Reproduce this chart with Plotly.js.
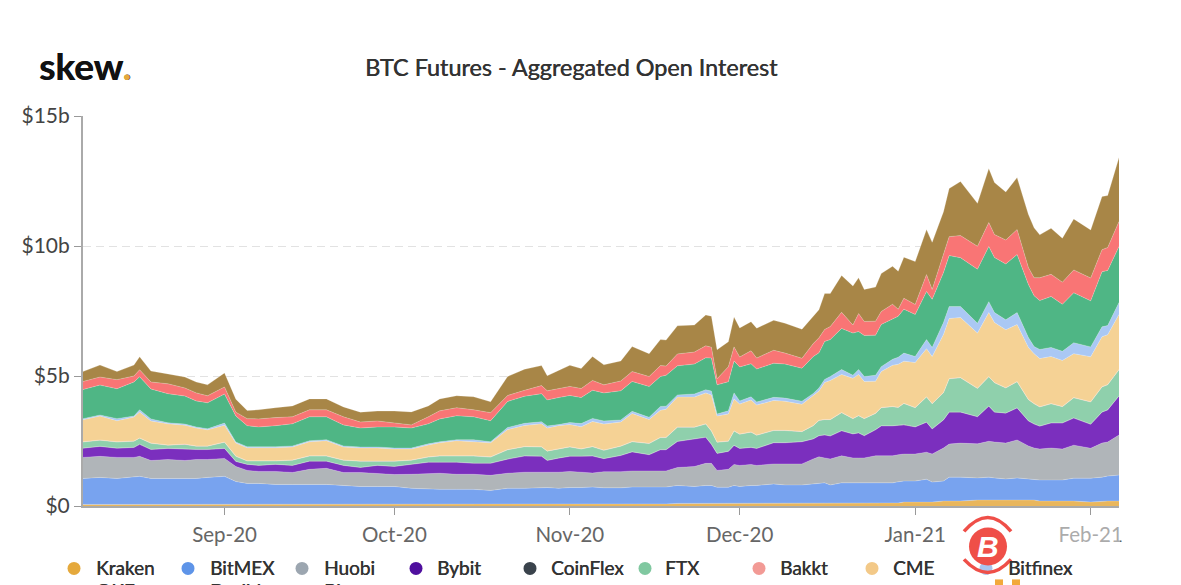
<!DOCTYPE html>
<html><head><meta charset="utf-8">
<script src="https://cdn.plot.ly/plotly-3.0.1.min.js"></script>
<style>html,body{margin:0;padding:0;background:#fff;overflow:hidden}#c{width:1181px;height:585px}</style>
</head><body><div id="c"></div>
<script>
const dates=["2020-08-07","2020-08-10","2020-08-13","2020-08-16","2020-08-17","2020-08-19","2020-08-22","2020-08-25","2020-08-27","2020-08-29",
"2020-09-01","2020-09-03","2020-09-05","2020-09-07","2020-09-10","2020-09-13","2020-09-16","2020-09-19","2020-09-22","2020-09-25",
"2020-09-28","2020-10-01","2020-10-04","2020-10-07","2020-10-09","2020-10-12","2020-10-15","2020-10-18","2020-10-21","2020-10-24",
"2020-10-27","2020-10-28","2020-10-30","2020-11-01","2020-11-03","2020-11-05","2020-11-07","2020-11-10","2020-11-12","2020-11-15",
"2020-11-17","2020-11-18","2020-11-20","2020-11-23","2020-11-25","2020-11-26","2020-11-27","2020-11-29","2020-11-30","2020-12-01",
"2020-12-03","2020-12-04","2020-12-07","2020-12-09","2020-12-12","2020-12-14","2020-12-15","2020-12-16","2020-12-17","2020-12-19",
"2020-12-21","2020-12-22","2020-12-23","2020-12-25","2020-12-26","2020-12-28","2020-12-29","2020-12-30","2021-01-01","2021-01-03","2021-01-04",
"2021-01-06","2021-01-07","2021-01-09",
"2021-01-12","2021-01-14","2021-01-15","2021-01-17","2021-01-19",
"2021-01-21","2021-01-22","2021-01-23","2021-01-25","2021-01-27","2021-01-29","2021-02-01","2021-02-03","2021-02-04","2021-02-06"];

const kraken=[.06,.06,.06,.06,.06,.06,.06,.06,.06,.06,.06,.06,.06,.06,.06,.06,.06,.06,.06,.06,.06,.06,.06,.06,.06,.06,.06,.06,.06,.06,.06,.06,.06,.06,.06,
.08,.08,.08,.08,.08,.08,.08,.1,.1,.1,.1,.1,.1,.1,.1,.1,.1,
.12,.12,.12,.12,.12,.12,.12,.12,.12,.12,.12,.12,.12,.12,.12,.15,.15,.15,.15,
.19,.19,.19,.23,.23,.23,.23,.23,.23,.23,.19,.19,.19,.19,.15,.19,.19,.19];
const bitmex=[1.0,1.04,1.0,1.04,1.08,1.0,1.0,1.0,1.0,1.04,
1.08,.88,.81,.81,.77,.77,.77,.77,.73,.69,
.69,.69,.62,.58,.58,.58,.58,.54,.62,.62,
.65,.65,.62,.65,.65,.65,.62,.62,.65,.65,
.65,.65,.69,.65,.69,.69,.62,.62,.69,.65,
.69,.69,.73,.69,.69,.73,.73,.77,.69,.77,
.77,.77,.77,.77,.77,.77,.81,.81,.81,.88,.77,
.77,.92,.92,
.85,.88,.85,.81,.85,
.81,.77,.81,.81,.81,.88,.92,.92,.96,1.0];
const huobi=[.81,.81,.81,.77,.77,.69,.73,.69,.73,.69,
.69,.58,.50,.46,.50,.46,.58,.62,.50,.54,
.50,.46,.54,.62,.62,.58,.58,.58,.58,.62,
.58,.58,.62,.62,.58,.54,.62,.62,.62,.62,
.62,.62,.69,.77,.85,.85,.65,.69,.81,.81,
.81,.77,.77,.81,.81,.96,1.04,.96,1.0,1.04,
.96,.96,.96,1.04,1.04,1.04,1.04,1.04,1.04,1.04,1.08,
1.27,1.27,1.31,
1.31,1.38,1.38,1.38,1.46,
1.27,1.23,1.19,1.23,1.19,1.27,1.15,1.31,1.31,1.54];
const bybit=[.35,.38,.35,.38,.46,.42,.42,.42,.38,.38,
.38,.19,.23,.23,.27,.27,.31,.27,.27,.19,
.31,.31,.38,.42,.42,.46,.42,.46,.54,.62,
.62,.46,.54,.58,.62,.65,.50,.62,.73,.62,
.81,.81,1.0,1.04,1.0,.73,.65,.69,.73,.65,
.65,.65,.81,.81,.85,.77,.81,.88,.88,.96,
.92,.96,.85,1.0,1.15,1.15,1.12,1.12,1.04,1.15,.96,
1.08,1.23,1.19,
1.04,1.35,1.15,1.15,1.23,
.96,.92,.88,.96,1.0,1.04,.92,1.19,1.23,1.5];
const coinflex=[.01,.01,.01,.01,.01,.01,.01,.01,.01,.01,.01,.01,.01,.01,.01,.01,.01,.01,.01,.01,.01,.01,.01,.01,.01,.01,.01,.01,.01,.01,
.01,.01,.01,.01,.01,.01,.01,.01,.01,.01,.01,.01,.01,.01,.01,.01,.01,.01,.01,.01,.01,.01,.01,.01,.01,.01,.01,.01,.01,.01,
.01,.01,.01,.01,.01,.01,.01,.01,.01,.01,.01,.01,.01,.01,.01,.01,.01,.01,.01,.01,.01,.01,.01,.01,.01,.01,.01,.01,.01];
const ftx=[.23,.23,.23,.23,.23,.23,.12,.19,.12,.12,
.23,.19,.12,.15,.12,.19,.19,.19,.19,.23,
.15,.19,.15,.19,.23,.23,.27,.23,.35,.35,
.35,.35,.35,.35,.27,.35,.31,.35,.38,.42,
.46,.46,.54,.46,.50,.50,.42,.38,.54,.54,
.58,.50,.46,.46,.38,.50,.58,.58,.62,.69,
.58,.65,.65,.62,.69,.73,.69,.81,.73,.96,.96,
1.04,1.27,1.31,
1.08,1.12,1.12,.96,1.0,
.81,.77,.73,.73,.62,.77,.85,.96,.96,1.0];
const bakkt=[.01,.01,.01,.01,.01,.01,.01,.01,.01,.01,.01,.01,.01,.01,.01,.01,.01,.01,.01,.01,.01,.01,.01,.01,.01,.01,.01,.01,.01,.01,
.01,.01,.01,.01,.01,.01,.01,.01,.01,.01,.01,.01,.01,.01,.01,.01,.01,.01,.01,.01,.01,.01,.01,.01,.01,.01,.01,.01,.01,.01,
.01,.01,.01,.01,.01,.01,.01,.01,.01,.01,.01,.01,.01,.01,.01,.01,.01,.01,.01,.01,.01,.01,.01,.01,.01,.01,.01,.01,.01];
const cme=[.85,.92,.81,.92,1.0,.85,.81,.73,.69,.62,
.65,.50,.50,.50,.50,.50,.54,.58,.50,.50,
.50,.46,.42,.46,.50,.58,.54,.54,.77,.81,
.88,.88,.88,.85,.85,.96,1.0,.92,1.08,.92,
1.04,1.08,1.15,1.15,1.19,1.38,1.0,1.04,1.23,1.15,
1.23,1.15,1.15,1.12,1.04,1.15,1.12,1.42,1.5,1.46,
1.54,1.58,1.42,1.23,1.38,1.58,1.65,1.62,1.73,1.85,1.81,
2.23,2.31,2.31,
2.12,2.46,2.31,2.23,2.19,
2.0,1.92,1.85,1.81,1.77,1.69,1.73,1.92,1.92,2.12];
const bitfinex=[.04,.04,.08,.04,.08,.08,.04,.04,.04,.04,
.08,.04,.04,.04,.04,.04,.04,.04,.04,.04,
.04,.04,.04,.04,.04,.04,.08,.04,.08,.08,
.08,.08,.04,.08,.12,.12,.12,.08,.08,.08,
.15,.12,.08,.12,.12,.15,.08,.12,.23,.12,
.12,.12,.12,.12,.12,.08,.12,.12,.15,.19,
.12,.19,.19,.23,.19,.23,.27,.31,.23,.35,.35,
.46,.46,.42,
.38,.42,.38,.38,.46,
.38,.27,.35,.35,.35,.42,.38,.38,.35,.46];
const okex=[1.12,1.15,1.15,1.31,1.27,1.15,1.12,1.08,1.0,1.0,
1.12,1.0,.81,.77,.81,.85,.92,.88,.81,.73,
.77,.81,.77,.77,.88,.92,.88,.81,1.0,1.04,
1.08,1.0,1.04,1.04,1.0,1.08,1.08,1.12,1.15,1.19,
1.15,1.19,1.12,1.15,1.23,1.27,1.12,1.12,1.23,1.31,
1.27,1.27,1.31,1.31,1.27,1.42,1.35,1.46,1.42,1.58,
1.62,1.46,1.58,1.54,1.62,1.54,1.58,1.69,1.62,1.85,1.85,
1.92,1.96,1.88,
2.08,2.12,2.12,2.15,2.23,
2.04,1.96,1.88,1.96,1.81,1.92,1.77,2.12,2.12,2.15];
const deribit=[.31,.31,.35,.23,.27,.27,.38,.31,.31,.27,
.27,.15,.27,.31,.31,.27,.27,.27,.31,.23,
.23,.15,.12,.27,.31,.31,.27,.31,.23,.23,
.31,.35,.35,.35,.35,.38,.31,.38,.38,.38,
.42,.35,.46,.46,.46,.42,.23,.58,.54,.38,
.50,.42,.50,.42,.38,.50,.58,.46,.50,.62,
.31,.69,.54,.54,.50,.58,.27,.42,.38,.65,.38,
.69,.73,.85,
.88,.92,.88,.92,.96,
.65,.69,.88,.85,.85,.88,.88,.85,.88,.96];
const binance=[.38,.46,.31,.42,.50,.42,.38,.42,.42,.42,
.54,.50,.31,.35,.38,.42,.42,.42,.38,.38,
.38,.46,.50,.42,.46,.46,.50,.42,.73,.81,
.77,.58,.69,.81,.77,.92,.77,.77,.96,.88,
1.0,1.0,1.08,1.04,1.19,1.19,1.12,.96,1.15,1.12,
1.12,1.15,1.15,1.15,1.12,1.08,1.08,1.38,1.27,1.42,
1.5,1.38,1.23,1.31,1.46,1.46,1.46,1.58,1.65,1.73,1.81,
1.65,1.85,2.08,
1.65,2.08,2.0,1.85,2.0,
2.04,1.92,1.65,1.77,1.69,1.96,1.85,2.04,2.0,2.46];

const stackNames=["Kraken","BitMEX","Huobi","Bybit","CoinFlex","FTX","Bakkt","CME","Bitfinex","OKEx","Deribit","Binance"];
const stackValues=[kraken,bitmex,huobi,bybit,coinflex,ftx,bakkt,cme,bitfinex,okex,deribit,binance];
const fillColors=["#e9b65c","#78a3ef","#b0b5b9","#7b2fbe","#3a434c","#8fd0ac","#f29a95","#f5d295","#aac8f4","#4fb685","#f97575","#a88647"];
const dotColors=["#e5a93c","#5e94e8","#9ca6b0","#4f0f9e","#3a434c","#80c8a0","#f29a95","#f3c988","#a9c4ee","#4fb685","#f97575","#a88647"];
const yTicks=[0,5,10,15], yLabels=["$0","$5b","$10b","$15b"];
const xTicks=["2020-09-01","2020-10-01","2020-11-01","2020-12-01","2021-01-01","2021-02-01"];
const xLabels=["Sep-20","Oct-20","Nov-20","Dec-20","Jan-21","Feb-21"];
const legendDotX=[74,188,302,416,530,645,759,872,986,74,188,302];
const legendTextX=[96,210,324,437,551,665,780,893,1008,96,210,324];

const W=1181,H=585,L=83,R=1119,T=116,B=506.5;
const px=x=>(x-L)/(R-L), py=y=>(B-y)/(B-T);
const traces=stackNames.map((n,i)=>({type:"scatter",mode:"lines",name:n,x:dates,y:stackValues[i],stackgroup:"one",
  line:{width:0.6,color:"rgba(255,255,255,0.35)",shape:"linear"},fillcolor:fillColors[i],hoverinfo:"x+y+name"}));

const anns=[
 {xref:"paper",yref:"paper",x:px(571),y:py(67),text:"BTC Futures - Aggregated Open Interest",showarrow:false,xanchor:"center",yanchor:"middle",font:{family:"Lato",size:23.4,color:"#333",shadow:"0.45px 0 0 #333"}},
 {xref:"paper",yref:"paper",x:px(37),y:py(65),text:'<b>skew<span style="color:#e5a93c">.</span></b>',showarrow:false,xanchor:"left",yanchor:"middle",font:{family:"Lato",size:37,color:"#111",shadow:"0.5px 0 0 #111"}}
];
const shapes=[
 {type:"path",xref:"paper",yref:"paper",line:{color:"#ef4f48",width:3.5},path:`M${px(964)},${py(532)} Q${px(988)},${py(504)} ${px(1011)},${py(532)}`},
 {type:"path",xref:"paper",yref:"paper",line:{color:"#ef4f48",width:3.5},path:`M${px(964)},${py(560)} Q${px(988)},${py(586)} ${px(1011)},${py(560)}`},
 {type:"rect",xref:"paper",yref:"paper",x0:px(995),x1:px(1003),y0:py(580),y1:py(586),fillcolor:"#f2a93b",line:{width:0}},
 {type:"rect",xref:"paper",yref:"paper",x0:px(1012),x1:px(1020),y0:py(580),y1:py(586),fillcolor:"#f2a93b",line:{width:0}},
 {type:"rect",xref:"paper",yref:"paper",x0:px(1052),x1:px(1120),y0:py(524),y1:py(545),fillcolor:"rgba(255,255,255,0.45)",line:{width:0},layer:"above"}
];
stackNames.forEach((n,i)=>{
  const rowY=i<9?569:592;
  const r=6.5;
  shapes.push({type:"circle",xref:"paper",yref:"paper",x0:px(legendDotX[i]-r),x1:px(legendDotX[i]+r),y0:py(rowY-r),y1:py(rowY+r),fillcolor:dotColors[i],line:{width:0},layer:"below"});
  anns.push({xref:"paper",yref:"paper",x:px(legendTextX[i]),y:py(rowY-1),text:n,showarrow:false,xanchor:"left",yanchor:"middle",xshift:-2,font:{family:"Lato",size:19,color:"#333",shadow:"0.4px 0 0 #333"}});
});
shapes.push({type:"circle",xref:"paper",yref:"paper",x0:px(969),x1:px(1007),y0:py(528),y1:py(566),fillcolor:"#ef4f48",line:{width:0}});
anns.push({xref:"paper",yref:"paper",x:px(988),y:py(547),text:"<b><i>B</i></b>",showarrow:false,xanchor:"center",yanchor:"middle",font:{family:"Liberation Sans",size:30,color:"#fff"}});

Plotly.newPlot("c",traces,{
  width:W,height:H,showlegend:false,paper_bgcolor:"#fff",plot_bgcolor:"#fff",
  margin:{l:L,r:W-R,t:T,b:H-B,pad:0},
  xaxis:{type:"date",range:["2020-08-07","2021-02-06"],tickmode:"array",tickvals:xTicks,ticktext:xLabels,ticks:"outside",ticklen:7,tickcolor:"#999",tickwidth:1,ticklabelstandoff:2,
    showgrid:false,showline:true,linecolor:"#aaa",linewidth:2,zeroline:false,tickfont:{family:"Lato",size:20.5,color:"#666"},automargin:false},
  yaxis:{range:[0,15],tickmode:"array",tickvals:yTicks,ticktext:yLabels,ticks:"outside",ticklen:7,tickcolor:"#999",tickwidth:1,
    showgrid:true,gridcolor:"#e2e2e2",griddash:"8px,5px",gridwidth:1,showline:true,linecolor:"#aaa",linewidth:2,zeroline:false,tickfont:{family:"Lato",size:21,color:"#444"},automargin:false},
  annotations:anns,shapes:shapes
},{displayModeBar:false,staticPlot:true});
</script></body></html>
